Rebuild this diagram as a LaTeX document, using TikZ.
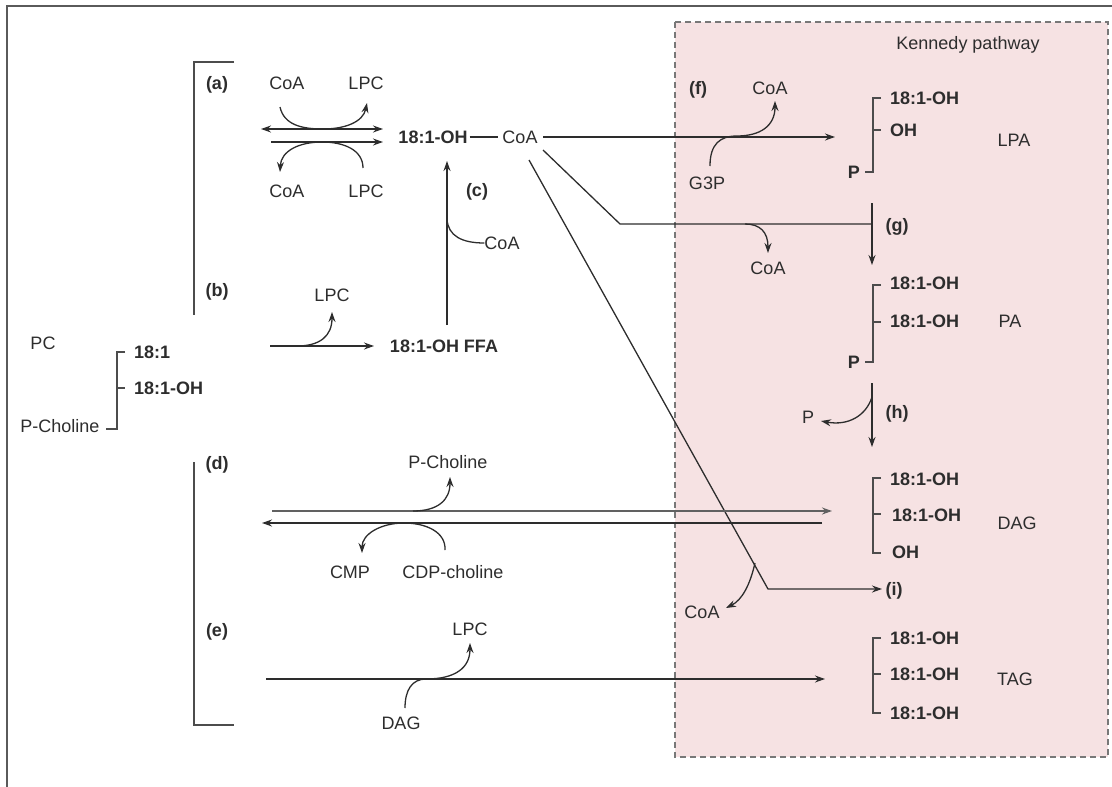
\documentclass[tikz,border=0pt]{standalone}
\usepackage{fontspec}
\setmainfont{Liberation Sans}
\usetikzlibrary{arrows.meta}
\definecolor{ink}{RGB}{45,45,45}
\definecolor{pinkbg}{RGB}{246,226,227}
\definecolor{dashgray}{RGB}{120,120,120}
\definecolor{framegray}{RGB}{90,90,90}
\newcommand{\fs}{\fontsize{18}{20}\selectfont}
\tikzset{
  lbl/.style={inner sep=0pt, text height=13pt, text depth=0pt, text=ink, font=\fs},
  blbl/.style={lbl, font=\fs\bfseries},
  ln/.style={draw=ink, line width=1.3pt},
  arr/.style={ln, -{Stealth[length=10pt,width=7pt]}},
  dblarr/.style={ln, {Stealth[length=10pt,width=7pt]}-{Stealth[length=10pt,width=7pt]}},
  brk/.style={draw=ink!85, line width=1.6pt},
}
\begin{document}
\begin{tikzpicture}[x=1pt,y=-1pt]
\useasboundingbox (0,0) rectangle (1112,787);
% frame
\draw[framegray, line width=1.5pt] (7,787) -- (7,6) -- (1112,6);
% Kennedy box
\draw[fill=pinkbg, draw=dashgray, line width=1.6pt, dash pattern=on 6pt off 4pt] (675,22) rectangle (1108,757);
\node[lbl] (kp) at (968,43) {Kennedy pathway};

% ---- left structure PC
\node[lbl] (pc) at (43,343) {PC};
\node[blbl, anchor=west] (pc1) at (134,352) {18:1};
\node[blbl, anchor=west] (pc2) at (134,388) {18:1-OH};
\node[lbl] (pchol) at (60,426) {P-Choline};
\draw[brk] (125,352) -- (117,352) -- (117,429) -- (106,429);
\draw[brk] (117,388) -- (125,388);

% brackets (a)-(b), (d)-(e)
\draw[brk] (234,62) -- (194,62) -- (194,315);
\draw[brk] (194,462) -- (194,725) -- (234,725);
\node[blbl] (la) at (217,83) {(a)};
\node[blbl] (lb) at (217,290) {(b)};
\node[blbl] (ld) at (217,463) {(d)};
\node[blbl] (le) at (217,630) {(e)};

% ---- (a)
\node[lbl] (aCoA1) at (287,83) {CoA};
\node[lbl] (aLPC1) at (366,83) {LPC};
\node[lbl] (aCoA2) at (287,191) {CoA};
\node[lbl] (aLPC2) at (366,191) {LPC};
\node[blbl] (oh) at (433,137) {18:1-OH};
\node[lbl] (coa) at (520,137) {CoA};
\draw[ln] ([xshift=2pt]oh.east) -- ([xshift=-4pt]coa.west);
\coordinate (a1L) at (261,129);
\coordinate (a1R) at (383,129);
\coordinate (a2L) at (271,142);
\coordinate (a2R) at (383,142);
\draw[dblarr] (a1L) -- (a1R);
\draw[arr] (a2L) -- (a2R);
\coordinate (ac1s) at (280,107);
\coordinate (ac1e) at (367,103);
\draw[arr] (ac1s) .. controls (284,125) and (302,129) .. (323,129) .. controls (345,129) and (363,122) .. (ac1e);
\coordinate (ac2s) at (363,168);
\coordinate (ac2e) at (280,172);
\draw[arr] (ac2s) .. controls (363,150) and (344,142) .. (322,142) .. controls (299,142) and (281,151) .. (ac2e);

% ---- (b)
\node[lbl] (bLPC) at (332,295) {LPC};
\node[blbl] (ffa) at (444,346) {18:1-OH FFA};
\coordinate (bs) at (270,346);
\coordinate (be) at (374,346);
\draw[arr] (bs) -- (be);
\coordinate (bbr) at (297,346);
\draw[arr] (bbr) .. controls (320,346) and (332,336) .. (332,312);

% ---- (c)
\node[blbl] (lc) at (477,190) {(c)};
\node[lbl] (ccoa) at (502,243) {CoA};
\coordinate (cs) at (447,325);
\coordinate (ce) at (447,161);
\draw[arr] (cs) -- (ce);
\coordinate (cbr) at (447,219);
\draw[ln] (cbr) .. controls (448,236) and (462,243) .. (ccoa.west);

% ---- main CoA -> LPA (f)
\coordinate (fs) at (543,137);
\coordinate (fe) at (835,137);
\draw[arr] (fs) -- (fe);
\node[blbl] (lf) at (698,88) {(f)};
\node[lbl] (fCoA) at (770,88) {CoA};
\node[lbl] (g3p) at (707,183) {G3P};
\draw[arr] (710,166) .. controls (710,144) and (720,136) .. (737,136) .. controls (760,136) and (775,126) .. (775,101);

% LPA
\node[blbl, anchor=west] (lpa1) at (890,98) {18:1-OH};
\node[blbl, anchor=west] (lpa2) at (890,130) {OH};
\node[blbl, anchor=east] (lpaP) at (860,172) {P};
\node[lbl] (lpa) at (1014,140) {LPA};
\draw[brk] (881,98) -- (873,98) -- (873,172) -- (865,172);
\draw[brk] (873,130) -- (881,130);

% ---- (g)
\coordinate (gs) at (543,150);
\coordinate (gk) at (620,224);
\coordinate (gj) at (872,224);
\draw[ln] (gs) -- (gk) -- (gj);
\coordinate (gvs) at (872,203);
\coordinate (gve) at (872,265);
\draw[arr] (gvs) -- (gve);
\node[blbl] (lg) at (897,225) {(g)};
\node[lbl] (gCoA) at (768,268) {CoA};
\draw[arr] (745,224) .. controls (760,224) and (768,232) .. (768,253);

% PA
\node[blbl, anchor=west] (pa1) at (890,283) {18:1-OH};
\node[blbl, anchor=west] (pa2) at (890,321) {18:1-OH};
\node[blbl, anchor=east] (paP) at (860,362) {P};
\node[lbl] (pa) at (1010,321) {PA};
\draw[brk] (881,285) -- (873,285) -- (873,362) -- (865,362);
\draw[brk] (873,322) -- (881,322);

% ---- (h)
\coordinate (hs) at (872,383);
\coordinate (he) at (872,447);
\draw[arr] (hs) -- (he);
\node[blbl] (lh) at (897,412) {(h)};
\node[lbl] (hP) at (808,417) {P};
\draw[arr] (872,397) .. controls (866,416) and (848,426) .. (821,421);

% DAG
\node[blbl, anchor=west] (dag1) at (890,479) {18:1-OH};
\node[blbl, anchor=west] (dag2) at (892,515) {18:1-OH};
\node[blbl, anchor=west] (dag3) at (892,552) {OH};
\node[lbl] (dag) at (1017,523) {DAG};
\draw[brk] (881,478) -- (873,478) -- (873,553) -- (881,553);
\draw[brk] (873,514) -- (881,514);

% ---- (i)
\coordinate (is) at (529,160);
\coordinate (ik) at (768,589);
\coordinate (ie) at (882,589);
\draw[arr] (is) -- (ik) -- (ie);
\node[blbl] (li) at (894,589) {(i)};
\node[lbl] (iCoA) at (702,612) {CoA};
\draw[arr] (755,563) .. controls (750,585) and (742,600) .. (726,608);

% ---- (d)
\node[lbl] (dPchol) at (448,462) {P-Choline};
\node[lbl] (cmp) at (350,572) {CMP};
\node[lbl] (cdp) at (453,572) {CDP-choline};
\coordinate (ds) at (272,511);
\coordinate (de) at (832,511);
\draw[ln, draw=ink!75, line width=2.4pt, -{Stealth[length=10pt,width=7pt]}] (ds) -- (de);
\coordinate (d2s) at (822,523);
\coordinate (d2e) at (262,523);
\draw[arr] (d2s) -- (d2e);
\draw[arr] (413,511) .. controls (438,511) and (450,500) .. (450,477);
\draw[arr] (445,550) .. controls (446,532) and (426,523) .. (404,523) .. controls (381,523) and (362,534) .. (362,553);

% ---- (e)
\node[lbl] (eLPC) at (470,629) {LPC};
\node[lbl] (eDAG) at (401,723) {DAG};
\coordinate (es) at (266,679);
\coordinate (ee) at (825,679);
\draw[arr] (es) -- (ee);
\draw[arr] (405,708) .. controls (405,690) and (412,679) .. (426,679) .. controls (455,679) and (470,668) .. (470,643);

% TAG
\node[blbl, anchor=west] (tag1) at (890,638) {18:1-OH};
\node[blbl, anchor=west] (tag2) at (890,674) {18:1-OH};
\node[blbl, anchor=west] (tag3) at (890,713) {18:1-OH};
\node[lbl] (tag) at (1015,679) {TAG};
\draw[brk] (881,638) -- (873,638) -- (873,713) -- (881,713);
\draw[brk] (873,674) -- (881,674);
\end{tikzpicture}
\end{document}
